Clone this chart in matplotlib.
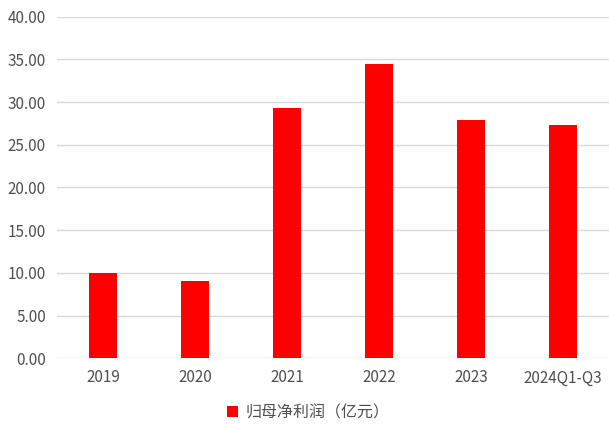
import matplotlib
matplotlib.use('Agg')
import matplotlib.pyplot as plt
import numpy as np

plt.rcParams['font.family'] = ['Noto Sans CJK SC', 'DejaVu Sans']
plt.rcParams['font.weight'] = 'medium'

years = ['2019', '2020', '2021', '2022', '2023', '2024Q1-Q3']
profit = [10.02, 9.02, 29.30, 34.43, 27.90, 27.32]
y_ticks = np.arange(0, 45, 5)

W, H = 609, 426
fig = plt.figure(figsize=(W / 100, H / 100), dpi=100)
ax = fig.add_axes([57 / W, (H - 358.3) / H, (609 - 57) / W, (358.3 - 16.6) / H])

x = np.arange(len(years))
ax.bar(x, profit, width=0.31, color='#ff0000', zorder=3, label='归母净利润（亿元）')

ax.set_xlim(-0.5, len(years) - 0.5)
ax.set_ylim(0, 40)
ax.set_yticks(y_ticks)
ax.set_yticklabels([f'{v:.2f}' for v in y_ticks])
ax.set_xticks(x)
ax.set_xticklabels(years)

ax.grid(axis='y', color='#d9d9d9', linewidth=1, zorder=0)
for s in ax.spines.values():
    s.set_visible(False)
ax.tick_params(length=0, labelsize=11, colors='#505050')
ax.tick_params(axis='y', pad=8)
ax.tick_params(axis='x', pad=8)

ax.legend(loc='center', bbox_to_anchor=(0.455, -0.16), frameon=False,
          prop={'size': 11.5, 'weight': 'medium'}, labelcolor='#505050',
          handlelength=0.7, handleheight=0.7, handletextpad=0.5)

fig.savefig('out.png', dpi=100)
